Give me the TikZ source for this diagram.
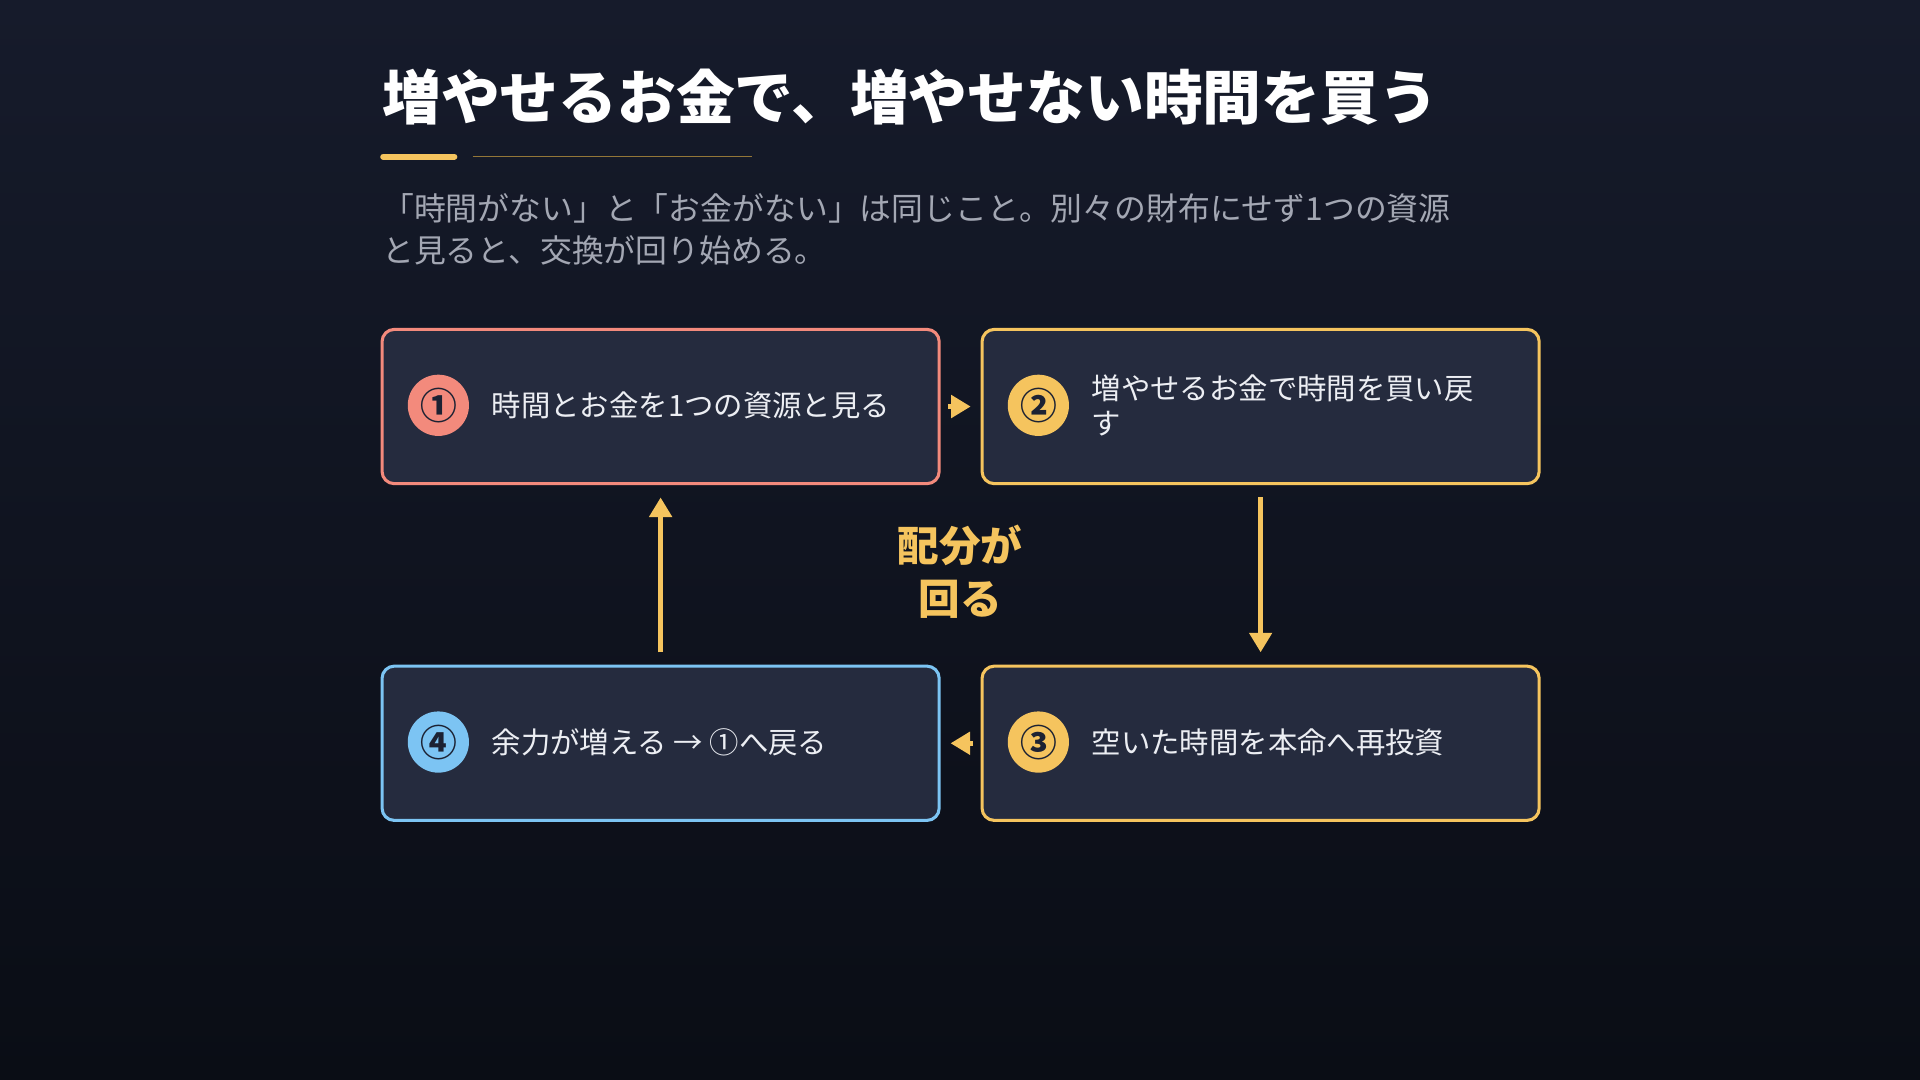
\documentclass[tikz,border=0pt]{standalone}
\usepackage{fontspec}
\newfontfamily\cjk{Noto Sans CJK JP}
\usetikzlibrary{arrows.meta,positioning}
\definecolor{bgtop}{HTML}{161B2B}
\definecolor{bgbot}{HTML}{0A0D15}
\definecolor{card}{HTML}{252B3E}
\definecolor{redc}{HTML}{F38A7C}
\definecolor{yelc}{HTML}{F5C45E}
\definecolor{bluc}{HTML}{7CC4F3}
\definecolor{subc}{HTML}{A3A7B3}
\definecolor{txtc}{HTML}{ECEEF3}
\definecolor{numc}{HTML}{1C2233}
\begin{document}
\begin{tikzpicture}[x=1pt,y=-1pt,
    every node/.style={font=\cjk},
    card/.style={draw=#1,line width=2.5pt,fill=card,rounded corners=10pt,
                 minimum width=455pt,minimum height=126pt,inner sep=0pt},
    num/.style={circle,fill=#1,minimum size=50pt,inner sep=0pt,
                font=\cjk\fontsize{30}{30}\selectfont\bfseries,text=numc},
    lbl/.style={anchor=west,text=txtc,font=\cjk\fontsize{24}{28}\selectfont,align=left},
    flow/.style={draw=yelc,line width=4pt,-{Triangle[length=16pt,width=18pt]}},
    ]
    \shade[top color=bgtop,bottom color=bgbot] (0,0) rectangle (1568,882);
    \useasboundingbox (0,0) rectangle (1568,882);

    % title
    \node[anchor=base west,text=white,font=\cjk\fontsize{48}{48}\selectfont\bfseries,inner sep=0pt]
        (title) at (312,98) {増やせるお金で、増やせない時間を買う};
    \draw[yelc,line width=5pt,line cap=round] (313,128) -- (371,128);
    \draw[yelc!60!black,line width=1.2pt] (386,128) -- (614,128);
    \node[anchor=north west,text=subc,font=\cjk\fontsize{26}{34}\selectfont,align=left,inner sep=0pt]
        (sub) at (312,158) {「時間がない」と「お金がない」は同じこと。別々の財布にせず1つの資源\\と見ると、交換が回り始める。};

    % cards
    \node[card=redc]  (c1) at (539.5,332) {};
    \node[card=yelc]  (c2) at (1029.5,332) {};
    \node[card=yelc]  (c3) at (1029.5,607) {};
    \node[card=bluc]  (c4) at (539.5,607) {};

    \node[num=redc]  (n1) at (358,331) {①};
    \node[num=yelc]  (n2) at (848,331) {②};
    \node[num=yelc]  (n3) at (848,606) {③};
    \node[num=bluc]  (n4) at (358,606) {④};

    \node[lbl] (t1) at (398,331) {時間とお金を1つの資源と見る};
    \node[lbl] (t2) at (888,331) {増やせるお金で時間を買い戻\\す};
    \node[lbl] (t3) at (888,606) {空いた時間を本命へ再投資};
    \node[lbl] (t4) at (398,606) {余力が増える → ①へ戻る};

    % flow
    \draw[flow,shorten <=6pt,shorten >=8pt] (c1.east) -- (c2.west);
    \draw[flow,shorten <=10pt,shorten >=10pt] (c2.south) -- (c3.north);
    \draw[flow,shorten <=6pt,shorten >=8pt] (c3.west) -- (c4.east);
    \draw[flow,shorten <=10pt,shorten >=10pt] (c4.north) -- (c1.south);

    \node[text=yelc,font=\cjk\fontsize{34}{43}\selectfont\bfseries,align=center]
        (mid) at (784,467) {配分が\\回る};
\end{tikzpicture}
\end{document}
